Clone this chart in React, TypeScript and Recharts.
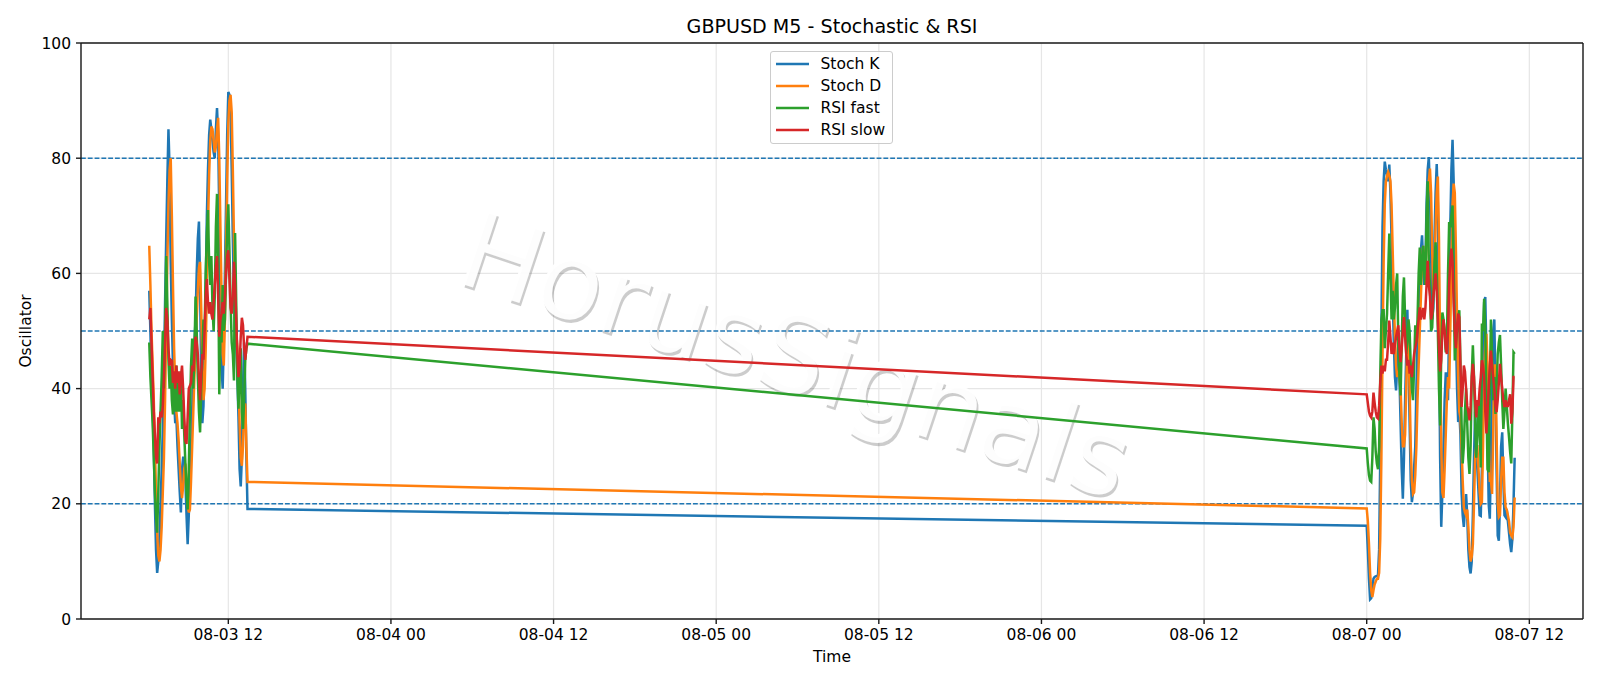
import { LineChart, Line, XAxis, YAxis, CartesianGrid, ReferenceLine, Legend, Customized } from 'recharts';

// M5 bars: 88 from 08-03 06:10, then the weekend gap, then 132 from 08-07 00:00
const sessionStarts = [6 + 10 / 60, 96];
const sessionBars = [88, 132];

const stochK = [
  57, 50, 42, 36, 30, 20, 12, 8, 10, 14, 20, 26, 33, 42, 55, 66, 76, 85, 78, 62, 52, 44, 38, 34, 35, 30, 26, 22, 18.5, 26,
  28, 28, 24, 18, 13, 18, 25, 30, 36, 44, 48, 52, 60, 66, 69, 58, 42, 34, 37, 46, 58, 70, 78, 84, 86.7, 85, 83, 81, 80, 85,
  88.7, 84, 70, 55, 44, 40, 48, 60, 72, 84, 91.5, 91, 88, 78, 66, 56, 50, 48, 42, 35, 26, 23, 28, 40, 48, 40, 28, 19.1,
  16.2, 12, 7, 3.4, 3.6, 5, 7, 7.3, 7.4, 7.5, 7.6, 12, 28, 50, 68, 76, 79.4, 78, 77, 76, 78.9, 74, 66, 56, 48, 42,
  39.7, 44, 48, 42, 34, 26, 20.9, 28, 38, 46, 53.7, 44, 34, 24, 20.3, 22, 26.4, 30, 40, 48, 52, 58, 64, 66.6, 62, 58,
  62, 72, 78, 80.2, 74, 64, 52, 54, 66, 74, 79, 72, 50, 28, 16, 22, 30, 38, 42.6, 42.6, 38, 52, 68, 78, 83.2, 76,
  64, 50, 40, 34.2, 36, 32, 22, 18, 16, 19, 21.7, 18, 12, 9, 7.9, 10, 18, 28, 36, 30, 26, 22, 18, 17.9, 26, 44,
  55, 55.9, 46, 32, 20, 17.4, 28, 42, 50, 52, 40, 26, 14.5, 13.6, 20, 30, 32.4, 24, 18, 17.7, 19, 17, 15, 13, 11.6, 14, 20, 28,
];

const stochD = [
  64.8, 58, 50, 44, 38, 30, 22, 15, 11, 10, 12, 16, 22, 28, 38, 50, 62, 72, 78, 80, 70, 58, 47, 40, 36, 34, 31, 27, 23, 21,
  23, 26, 27, 24, 20, 18.5, 19, 24, 30, 36, 42, 46, 52, 57, 61, 62, 54, 44, 38, 40, 47, 58, 68, 77, 83, 85.5, 85, 83, 81, 82,
  85, 87, 80, 68, 56, 46, 44, 52, 64, 76, 86, 90, 91, 88, 78, 66, 56, 50, 47, 42, 34, 28, 26.6, 30, 37, 37.4, 30, 23.8,
  19.2, 17, 13, 8, 5, 3.8, 5, 6, 6.5, 7, 7, 8, 14, 28, 46, 62, 72, 76, 77, 77.6, 77, 76, 72, 64, 56, 49,
  44, 42, 43, 42, 40, 34, 30, 30, 32, 40, 48.6, 46, 40, 30, 24, 21.7, 22, 25, 30, 38, 44, 50, 56, 62, 64.8, 62,
  60, 65, 72, 76, 78.2, 74, 64, 56, 60, 68, 74, 76.8, 66, 46, 30, 22, 21, 26, 32, 38, 42, 40, 50, 62, 72, 75.6,
  74, 64, 52, 42, 36, 35, 30, 24, 19.4, 18.5, 18, 19, 16, 12, 10, 10.8, 13, 20, 28, 30, 30, 26, 22, 20, 20.3, 30,
  42, 48, 49.5, 44, 32, 24, 24, 21.7, 32, 44, 44, 32, 20, 17.7, 18, 24, 28, 28, 22, 19.4, 19, 18, 17, 15, 14.5, 14.2, 16, 21.1,
];

const rsiFast = [
  48, 42, 38, 34, 28, 22, 18, 15, 22, 30, 36, 42, 50, 40, 50, 63, 55, 45, 40, 44, 38, 35.5, 42, 36, 44, 36, 42, 36, 43, 33,
  38, 32, 27, 22, 19, 26, 36, 44, 48.7, 40, 46, 56, 50, 42, 36, 32.4, 40, 46, 52, 50, 60, 67, 71, 62, 58, 63, 54, 50, 56, 68,
  73.8, 62, 39, 50, 48, 58, 50, 52, 60, 68, 72, 64, 55, 48, 46, 41.4, 67, 55, 42, 36.5, 42, 47, 36, 33, 38, 45, 47, 47.8,
  29.6, 27, 25, 24, 23.8, 28, 35, 33, 29, 27, 26, 30, 42, 52, 53.6, 53.6, 47, 50, 53, 60, 66.9, 60, 52, 57, 52, 54,
  58, 60, 48, 42, 38.8, 48, 56, 59.3, 52, 46, 48, 52, 50, 44, 40, 38, 44, 51, 48, 52, 60, 64.5, 58, 62, 64.8, 60,
  58, 70, 76, 62, 58, 50, 50.6, 56, 62, 65.4, 60, 50, 40, 33.6, 46, 53.2, 52, 50, 46.3, 48, 60, 68.9, 68, 70, 71.8, 58,
  44.9, 48, 50, 52, 53.6, 44, 34, 27, 30, 36, 40, 34, 28, 25.2, 30, 42, 47.5, 42, 34, 28, 32, 38, 33, 26.3, 51.3, 50,
  55.6, 50, 38, 26, 25.5, 40, 52, 46, 38, 42, 35.6, 40, 46, 48, 49.3, 44, 38, 33, 36, 40, 37, 34, 31.6, 29, 27, 36, 46.3, 46,
];

const rsiSlow = [
  52, 54, 48, 42, 36, 32, 28, 27, 35, 34, 36, 35, 37, 42, 48, 54, 52, 47, 44, 45, 44.8, 41, 43, 40, 44, 41, 43, 39, 42, 44,
  40, 35, 31, 30.4, 35, 40, 40.5, 41, 44, 43, 46, 49, 48, 46, 42, 38, 42, 46, 45, 50, 56, 59, 55, 53, 55, 53, 52, 55, 58, 61,
  63, 56, 49, 52, 53, 55, 53, 56, 60, 63, 64, 59, 54, 53, 56, 62, 58, 52, 46, 42, 44, 49, 52.3, 51, 47, 45, 47, 49,
  39, 37.5, 36, 35.3, 35, 36, 39.3, 37.5, 36, 35, 34.8, 37, 41, 44, 42.6, 44, 43, 45, 45, 48, 51.8, 49, 46, 48, 46, 47.6,
  49, 50, 51, 47, 44.6, 47, 50, 52.4, 49, 46, 44, 45, 42.6, 44, 42, 44, 46, 47, 48, 50, 52, 54.1, 52, 53, 54, 52,
  54, 58, 62.2, 58, 56, 52, 53, 56, 58, 60, 57, 52, 47, 43, 45, 50, 52, 50, 47, 46, 50, 58, 62, 64.3, 62, 55,
  50, 47, 51, 53, 52.4, 44, 36.8, 40, 44, 43, 40, 37, 36, 34.5, 37, 42, 44.3, 42, 38, 35, 38, 37, 40, 42, 44.9, 44,
  42, 36, 32.2, 36, 40, 44, 46.6, 44, 42, 40, 37, 35.9, 38, 41, 44.3, 42, 40, 38, 36.8, 38, 37, 37, 38, 39, 33.9, 36, 42, 42,
];

const timeTicks = [12, 24, 36, 48, 60, 72, 84, 96, 108];
const oscTicks = [0, 20, 40, 60, 80, 100];
const levels = [20, 50, 80];

const hours = sessionStarts.flatMap((start, s) =>
  Array.from({ length: sessionBars[s] }, (_, i) => start + i / 12)
);
const chartData = hours.map((t, i) => ({
  t,
  k: stochK[i],
  d: stochD[i],
  fast: rsiFast[i],
  slow: rsiSlow[i],
}));

const FONT = '"DejaVu Sans", sans-serif';
const AXIS = '#1a1a1a';

const pad = (n: number) => String(n).padStart(2, '0');
const formatTick = (h: number) => `08-${pad(3 + Math.floor(h / 24))} ${pad(h % 24)}`;

const Watermark = () => (
  <g style={{ fontFamily: FONT, fontSize: 107, pointerEvents: 'none' }}>
    <text x={453} y={281} transform="rotate(18.3 453 281)" dx={2.5} dy={2.5} fill="rgba(0,0,0,0.2)">HorusSignals</text>
    <text x={453} y={281} transform="rotate(18.3 453 281)" fill="rgba(255,255,255,0.95)">HorusSignals</text>
  </g>
);

const LegendBox = ({ payload }: any) => (
  <div style={{
    background: 'rgba(255,255,255,0.8)',
    border: '1px solid #ccc',
    borderRadius: 3,
    padding: '1px 0',
    boxSizing: 'border-box',
    height: 93,
    fontFamily: FONT,
    fontSize: 15.5,
    color: '#000',
  }}>
    {(payload || []).map((item: any) => (
      <div key={item.value} style={{ display: 'flex', alignItems: 'center', height: 22.1 }}>
        <svg width={33} height={6} style={{ marginLeft: 5, marginRight: 12, display: 'block' }}>
          <line x1={0} y1={3} x2={33} y2={3} stroke={item.color} strokeWidth={2.5} />
        </svg>
        <span>{item.value}</span>
      </div>
    ))}
  </div>
);

export default function App() {
  return (
    <div style={{ position: 'absolute', left: 0, top: 0, width: 1600, height: 686, background: '#fff', fontFamily: FONT }}>
      <div style={{ position: 'absolute', left: 81, width: 1502, top: 15, textAlign: 'center', fontSize: 19.1, lineHeight: '23px', color: '#000' }}>
        GBPUSD M5 - Stochastic &amp; RSI
      </div>
      <LineChart width={1600} height={686} data={chartData} margin={{ top: 43, right: 17, bottom: 37, left: 21 }}>
        <CartesianGrid stroke="#e6e6e6" strokeWidth={1.2} />
        <XAxis
          dataKey="t"
          type="number"
          domain={[1.13, 111.96]}
          ticks={timeTicks}
          tickFormatter={formatTick}
          height={30}
          stroke={AXIS}
          strokeWidth={1.4}
          tickSize={5}
          tickMargin={5}
          tick={{ fontSize: 15.5, fill: '#000', fontFamily: FONT }}
          label={{ value: 'Time', position: 'bottom', offset: 2, style: { fontSize: 15.5, fill: '#000', fontFamily: FONT } }}
        />
        <YAxis
          type="number"
          domain={[0, 100]}
          ticks={oscTicks}
          width={60}
          stroke={AXIS}
          strokeWidth={1.4}
          tickSize={5}
          tickMargin={5}
          tick={{ fontSize: 15.5, fill: '#000', fontFamily: FONT }}
          label={{ value: 'Oscillator', angle: -90, position: 'insideLeft', offset: 4, style: { fontSize: 15.5, fill: '#000', fontFamily: FONT, textAnchor: 'middle' } }}
        />
        {levels.map(v => (
          <ReferenceLine key={v} y={v} stroke="#1f77b4" strokeWidth={1.6} strokeDasharray="4.8 2" />
        ))}
        <ReferenceLine y={100} stroke={AXIS} strokeWidth={1.4} />
        <ReferenceLine x={111.96} stroke={AXIS} strokeWidth={1.4} />
        <Line dataKey="k" name="Stoch K" stroke="#1f77b4" strokeWidth={2.5} dot={false} isAnimationActive={false} />
        <Line dataKey="d" name="Stoch D" stroke="#ff7f0e" strokeWidth={2.5} dot={false} isAnimationActive={false} />
        <Line dataKey="fast" name="RSI fast" stroke="#2ca02c" strokeWidth={2.5} dot={false} isAnimationActive={false} />
        <Line dataKey="slow" name="RSI slow" stroke="#d62728" strokeWidth={2.5} dot={false} isAnimationActive={false} />
        <Customized component={Watermark} />
        <Legend
          layout="vertical"
          align="center"
          verticalAlign="middle"
          itemSorter={null}
          content={<LegendBox />}
          wrapperStyle={{ left: 769.5, top: 50.5, width: 123.5, height: 93 }}
        />
      </LineChart>
    </div>
  );
}
